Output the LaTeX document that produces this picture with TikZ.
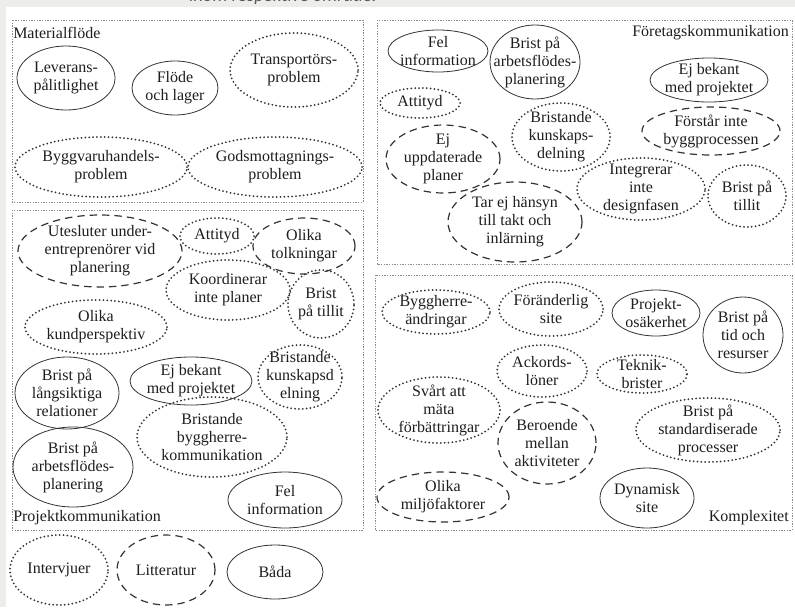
\documentclass[tikz,border=0pt]{standalone}
\usepackage{fontspec}
\setmainfont{Liberation Serif}
\newfontfamily\hdrfont{Carlito}
\usetikzlibrary{shapes.geometric}
\definecolor{bg}{HTML}{EDEDE9}
\definecolor{ln}{HTML}{333333}
\definecolor{fr}{HTML}{8A8A8A}
\definecolor{tx}{HTML}{1E1E1E}
\tikzset{
 elbase/.style={ellipse, draw=ln, inner sep=0pt},
 sz/.style 2 args={minimum width=#1*1.5pt, minimum height=#2*1.5pt},
 solidel/.style={elbase, line width=0.6pt},
 dotel/.style={elbase, line width=1.5pt, line cap=round, dash pattern=on 0pt off 2.9pt},
 dashel/.style={elbase, line width=0.9pt, dash pattern=on 5.5pt off 3.8pt},
 frame/.style={draw=fr, line width=0.5pt, dash pattern=on 1pt off 1pt},
 txt/.style={font=\fontsize{12}{13.5}\selectfont, text=tx, align=center, inner sep=0pt},
}
\begin{document}
\begin{tikzpicture}[x=0.75pt,y=-0.75pt]
\clip (0,0) rectangle (795,607);
\fill[white] (0,0) rectangle (795,607);
\fill[bg] (0,0) rectangle (795,7);
\fill[bg] (0,0) rectangle (6,607);
\node[anchor=base, font=\hdrfont\itshape\fontsize{14}{16}\selectfont, text=black!65] (hdr) at (283,1.5) {inom respektive område.};

% Materialflöde
\draw[frame] (12,20) rectangle (363,202);
\node[txt, anchor=west] (lmat) at (13,33) {Materialflöde};
\node[solidel, sz={49}{32}] (m1) at (66,78) {};
\node[txt] (m1t) at (m1) {Leverans-\\pålitlighet};
\node[solidel, sz={43}{27}] (m2) at (175,88) {};
\node[txt] (m2t) at (m2) {Flöde\\och lager};
\node[dotel, sz={64}{37}] (m3) at (294,70) {};
\node[txt] (m3t) at (m3) {Transportörs-\\problem};
\node[dotel, sz={86}{30}] (m4) at (101,167) {};
\node[txt] (m4t) at (m4) {Byggvaruhandels-\\problem};
\node[dotel, sz={87}{30}] (m5) at (275,167) {};
\node[txt] (m5t) at (m5) {Godsmottagnings-\\problem};

% Företagskommunikation
\draw[frame] (377,20) rectangle (792,264);
\node[txt, anchor=east] (lfor) at (789,33) {Företagskommunikation};
\node[solidel, sz={50}{21}] (f1) at (438,51) {};
\node[txt] (f1t) at (f1) {Fel\\information};
\node[solidel, sz={45}{37}] (f2) at (535,62) {};
\node[txt] (f2t) at (f2) {Brist på\\arbetsflödes-\\planering};
\node[solidel, sz={59}{22}] (f3) at (709,80) {};
\node[txt] (f3t) at (f3) {Ej bekant\\med projektet};
\node[dotel, sz={40}{15}] (f4) at (420,103) {};
\node[txt] (f4t) at (f4) {Attityd};
\node[dotel, sz={49}{34}] (f5) at (561,137) {};
\node[txt] (f5t) at (f5) {Bristande\\kunskaps-\\delning};
\node[dashel, sz={69}{24}] (f6) at (711,131) {};
\node[txt] (f6t) at (f6) {Förstår inte\\byggprocessen};
\node[dashel, sz={57}{34}] (f7) at (443,159) {};
\node[txt] (f7t) at (f7) {Ej\\uppdaterade\\planer};
\node[dotel, sz={64}{31}] (f8) at (641,189) {};
\node[txt] (f8t) at (f8) {Integrerar\\inte\\designfasen};
\node[dotel, sz={39}{31}] (f9) at (747,196) {};
\node[txt] (f9t) at (f9) {Brist på\\tillit};
\node[dashel, sz={67}{40}] (f10) at (515,222) {};
\node[txt] (f10t) at (f10) {Tar ej hänsyn\\till takt och\\inlärning};

% Projektkommunikation
\draw[frame] (12,210) rectangle (363,530);
\node[txt, anchor=west] (lprj) at (13,518) {Projektkommunikation};
\node[dashel, sz={82}{36}] (p1) at (100,251) {};
\node[txt] (p1t) at (p1) {Utesluter under-\\entreprenörer vid\\planering};
\node[dotel, sz={37}{18}] (p2) at (217,236) {};
\node[txt] (p2t) at (p2) {Attityd};
\node[dashel, sz={51}{28}] (p3) at (304,246) {};
\node[txt] (p3t) at (p3) {Olika\\tolkningar};
\node[dotel, sz={62}{30}] (p4) at (228,290) {};
\node[txt] (p4t) at (p4) {Koordinerar\\inte planer};
\node[dotel, sz={33}{34}] (p5) at (321,304) {};
\node[txt] (p5t) at (p5) {Brist\\på tillit};
\node[dotel, sz={71}{27}] (p6) at (96,327) {};
\node[txt] (p6t) at (p6) {Olika\\kundperspektiv};
\node[solidel, sz={61}{24}] (p7) at (191,381) {};
\node[txt] (p7t) at (p7) {Ej bekant\\med projektet};
\node[dotel, sz={42}{32}] (p8) at (300,377) {};
\node[txt] (p8t) at (p8) {Bristande\\kunskapsd\\elning};
\node[solidel, sz={52}{36}] (p9) at (67,393) {};
\node[txt] (p9t) at (p9) {Brist på\\långsiktiga\\relationer};
\node[dotel, sz={75}{40}] (p10) at (212,437) {};
\node[txt] (p10t) at (p10) {Bristande\\byggherre-\\kommunikation};
\node[solidel, sz={60}{40}] (p11) at (73,467) {};
\node[txt] (p11t) at (p11) {Brist på\\arbetsflödes-\\planering};
\node[solidel, sz={57}{28}] (p12) at (285,500) {};
\node[txt] (p12t) at (p12) {Fel\\information};

% Komplexitet
\draw[frame] (375,275) rectangle (792,530);
\node[txt, anchor=east] (lkom) at (789,518) {Komplexitet};
\node[dotel, sz={54}{22}] (k1) at (436,312) {};
\node[txt] (k1t) at (k1) {Byggherre-\\ändringar};
\node[dotel, sz={52}{27}] (k2) at (551,309) {};
\node[txt] (k2t) at (k2) {Föränderlig\\site};
\node[solidel, sz={44}{23}] (k3) at (656,313) {};
\node[txt] (k3t) at (k3) {Projekt-\\osäkerhet};
\node[solidel, sz={40}{38}] (k4) at (743,335) {};
\node[txt] (k4t) at (k4) {Brist på\\tid och\\resurser};
\node[dotel, sz={45}{26}] (k5) at (542,371) {};
\node[txt] (k5t) at (k5) {Ackords-\\löner};
\node[dotel, sz={45}{19}] (k6) at (642,374) {};
\node[txt] (k6t) at (k6) {Teknik-\\brister};
\node[dotel, sz={61}{33}] (k7) at (439,410) {};
\node[txt] (k7t) at (k7) {Svårt att\\mäta\\förbättringar};
\node[dashel, sz={49}{41}] (k8) at (547,443) {};
\node[txt] (k8t) at (k8) {Beroende\\mellan\\aktiviteter};
\node[dotel, sz={72}{32}] (k9) at (708,430) {};
\node[txt] (k9t) at (k9) {Brist på\\standardiserade\\processer};
\node[dashel, sz={66}{25}] (k10) at (443,497) {};
\node[txt] (k10t) at (k10) {Olika\\miljöfaktorer};
\node[solidel, sz={47}{30}] (k11) at (647,498) {};
\node[txt] (k11t) at (k11) {Dynamisk\\site};

% Legend
\node[dotel, sz={49}{35}] (l1) at (59,570) {};
\node[txt] (l1t) at (l1) {Intervjuer};
\node[dashel, sz={49}{35}] (l2) at (166,570) {};
\node[txt] (l2t) at (l2) {Litteratur};
\node[solidel, sz={48}{27}] (l3) at (275,572) {};
\node[txt] (l3t) at (l3) {Båda};
\end{tikzpicture}
\end{document}
